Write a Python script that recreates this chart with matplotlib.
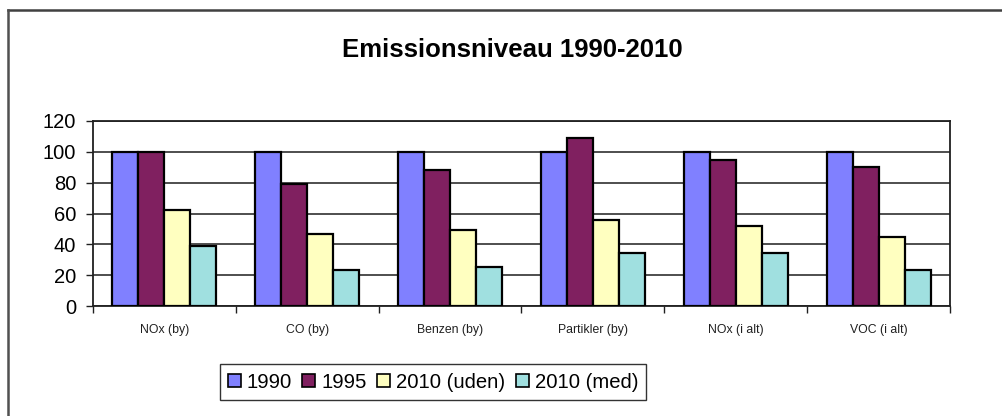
import matplotlib
matplotlib.use("Agg")
import matplotlib.pyplot as plt
import numpy as np
from matplotlib.lines import Line2D

categories = ["NOx (by)", "CO (by)", "Benzen (by)", "Partikler (by)", "NOx (i alt)", "VOC (i alt)"]
series_names = ["1990", "1995", "2010 (uden)", "2010 (med)"]
v1990 = [100, 100, 100, 100, 100, 100]
v1995 = [100, 79, 88, 109, 95, 90]
v2010_uden = [62.5, 46.5, 49, 56, 52, 44.5]
v2010_med = [39, 23.5, 25, 34.5, 34.5, 23.5]
colors = ["#8080FF", "#802060", "#FFFFC0", "#A0E0E0"]
yticks = [0, 20, 40, 60, 80, 100, 120]

plt.rcParams['font.family'] = ['Liberation Sans', 'DejaVu Sans']

fig = plt.figure(figsize=(10.02, 4.16), dpi=100)
ax = fig.add_axes([93/1002, 110/416, (950-93)/1002, (306-121)/416])

x = np.arange(len(categories))
w = 0.182
data = [v1990, v1995, v2010_uden, v2010_med]
for i, (vals, c, name) in enumerate(zip(data, colors, series_names)):
    ax.bar(x + (i - 1.5) * w, vals, w, color=c, edgecolor="black", linewidth=1.6,
           label=name, zorder=3)

ax.set_xlim(-0.5, len(categories) - 0.5)
ax.set_ylim(0, 120)
ax.set_yticks(yticks)
ax.set_yticklabels([str(t) for t in yticks], fontsize=14.5)
ax.yaxis.grid(True, color="#404040", linewidth=1.3, zorder=0)
ax.set_axisbelow(True)
ax.set_xticks(np.arange(len(categories) + 1) - 0.5, minor=False)
ax.set_xticklabels([])
ax.set_xticks(x, minor=True)
ax.set_xticklabels(categories, minor=True, fontsize=8.8, color="#202020")
ax.tick_params(axis="x", which="minor", length=0, pad=13)
ax.tick_params(axis="x", which="major", length=5, width=1, direction="out", color="#202020")
ax.tick_params(axis="y", length=5, width=1, direction="out", color="#202020", pad=7)
for s in ax.spines.values():
    s.set_color("#202020")
    s.set_linewidth(1.3)

fig.text(512/1002, 1 - 50/416, "Emissionsniveau 1990-2010", ha="center", va="center",
         fontsize=18.5, fontweight="bold")

handles = [plt.Rectangle((0, 0), 1, 1, facecolor=c, edgecolor="black", linewidth=1.2) for c in colors]
leg = fig.legend(handles, series_names, loc="center", bbox_to_anchor=(433/1002, 1 - 382/416),
                 ncol=4, frameon=True, fancybox=False, fontsize=14.6, handlelength=0.65,
                 handleheight=0.65, handletextpad=0.3, columnspacing=0.5, borderpad=0.4)
leg.get_frame().set_edgecolor("black")
leg.get_frame().set_linewidth(1.0)

# outer chart frame
fig.add_artist(Line2D([7.5/1002, 1], [1 - 9.5/416, 1 - 9.5/416], transform=fig.transFigure,
                      color="#404040", linewidth=1.8))
fig.add_artist(Line2D([7.5/1002, 7.5/1002], [0, 1 - 9.5/416], transform=fig.transFigure,
                      color="#505050", linewidth=1.8))

fig.savefig("out.png", dpi=100)
